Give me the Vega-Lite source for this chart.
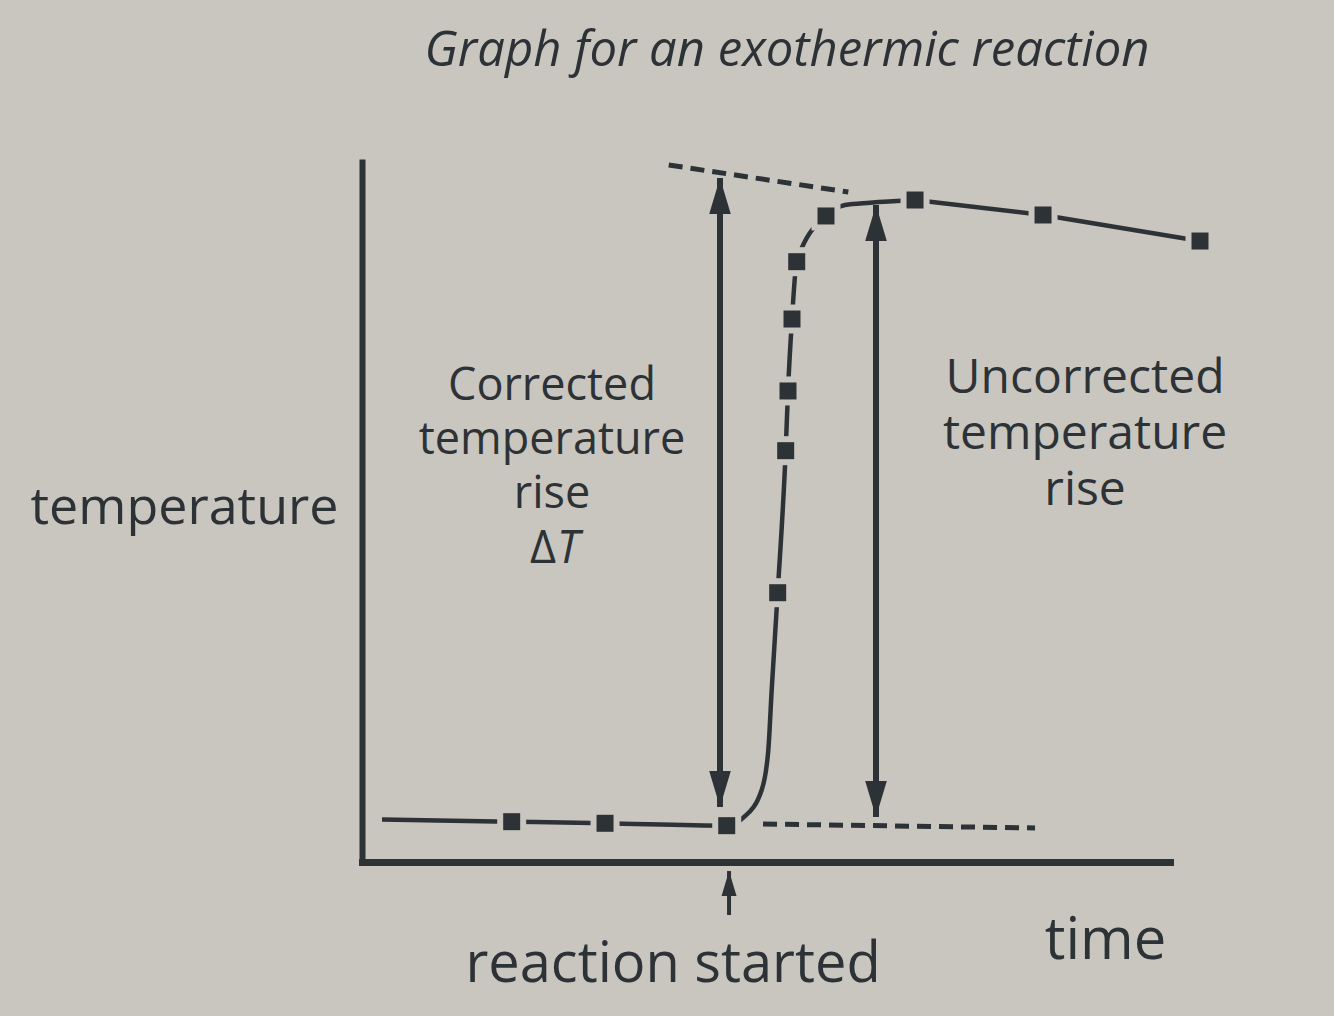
{
  "$schema": "https://vega.github.io/schema/vega-lite/v6.json",
  "width": 808,
  "height": 700,
  "autosize": "none",
  "padding": {"left": 362, "top": 162, "right": 164, "bottom": 154},
  "background": "#c9c6bf",
  "title": {
    "text": "Graph for an exothermic reaction",
    "font": "Open Sans",
    "fontStyle": "italic",
    "fontWeight": "normal",
    "fontSize": 49,
    "color": "#2d3236",
    "anchor": "middle",
    "frame": "group",
    "dx": 21,
    "baseline": "alphabetic",
    "offset": 40
  },
  "config": {
    "view": {"stroke": null},
    "axis": {"grid": false, "ticks": false, "labels": false, "domainColor": "#2d3236", "domainCap": "square",
      "titleFont": "Open Sans", "titleFontWeight": "normal", "titleColor": "#2d3236"}
  },
  "datasets": {
    "curve": [
      {"time": 2.5, "temp": 6.07, "marker": false},
      {"time": 18.71, "temp": 5.76, "marker": true},
      {"time": 30.38, "temp": 5.53, "marker": true},
      {"time": 45.59, "temp": 5.19, "marker": true},
      {"time": 47.63, "temp": 6.29, "marker": false},
      {"time": 49.96, "temp": 10.29, "marker": false},
      {"time": 50.79, "temp": 16.0, "marker": false},
      {"time": 51.21, "temp": 24.57, "marker": false},
      {"time": 51.96, "temp": 38.47, "marker": true},
      {"time": 52.96, "temp": 58.76, "marker": true},
      {"time": 53.25, "temp": 67.29, "marker": true},
      {"time": 53.75, "temp": 77.57, "marker": true},
      {"time": 54.34, "temp": 85.76, "marker": true},
      {"time": 58.0, "temp": 92.29, "marker": true},
      {"time": 60.38, "temp": 93.86, "marker": false},
      {"time": 63.5, "temp": 94.19, "marker": false},
      {"time": 69.13, "temp": 94.57, "marker": true},
      {"time": 85.13, "temp": 92.43, "marker": true},
      {"time": 104.75, "temp": 88.71, "marker": true}
    ],
    "guides": [
      {"guide": "extrapolated maximum", "time": 38.34, "temp": 99.57},
      {"guide": "extrapolated maximum", "time": 60.79, "temp": 95.71},
      {"guide": "starting temperature", "time": 50.13, "temp": 5.43},
      {"guide": "starting temperature", "time": 84.13, "temp": 4.86}
    ],
    "rises": [
      {"rise": "corrected", "time": 44.75, "top": 97.71, "bottom": 7.86},
      {"rise": "uncorrected", "time": 64.25, "top": 93.86, "bottom": 6.43}
    ],
    "start": [
      {"event": "reaction started", "time": 45.88, "top": -1.29, "bottom": -7.57}
    ],
    "blocks": [
      {"label": "Corrected\ntemperature\nrise", "time": 23.75, "temp": 66.0}
    ],
    "blocks2": [
      {"label": "Uncorrected\ntemperature\nrise", "time": 90.38, "temp": 67.0}
    ]
  },
  "layer": [
    {
      "data": {"name": "guides"},
      "mark": {"type": "line", "color": "#2d3236", "strokeWidth": 5, "strokeDash": [14, 8]},
      "encoding": {
        "x": {"field": "time", "type": "quantitative", "scale": {"domain": [0, 101], "nice": false, "zero": false},
          "axis": {"title": "time", "domainWidth": 7, "titleFontSize": 58, "titleX": 743, "titleY": 96, "titleAlign": "center", "titleBaseline": "alphabetic"}},
        "y": {"field": "temp", "type": "quantitative", "scale": {"domain": [0, 100], "nice": false, "zero": false},
          "axis": {"title": "temperature", "domainWidth": 6, "titleFontSize": 52, "titleAngle": 0, "titleAlign": "right", "titleBaseline": "alphabetic", "titleX": -24, "titleY": 361}},
        "detail": {"field": "guide"}
      }
    },
    {
      "data": {"name": "curve"},
      "transform": [{"filter": "datum.time <= 69.13"}],
      "mark": {"type": "line", "color": "#2d3236", "strokeWidth": 4.5, "interpolate": "monotone"},
      "encoding": {
        "x": {"field": "time", "type": "quantitative"},
        "y": {"field": "temp", "type": "quantitative"}
      }
    },
    {
      "data": {"name": "curve"},
      "transform": [{"filter": "datum.time >= 69.13"}],
      "mark": {"type": "line", "color": "#2d3236", "strokeWidth": 4.5},
      "encoding": {
        "x": {"field": "time", "type": "quantitative"},
        "y": {"field": "temp", "type": "quantitative"}
      }
    },
    {
      "data": {"name": "curve"},
      "transform": [{"filter": "datum.marker"}],
      "mark": {"type": "point", "shape": "square", "filled": true, "color": "#c9c6bf", "opacity": 1, "size": 841},
      "encoding": {
        "x": {"field": "time", "type": "quantitative"},
        "y": {"field": "temp", "type": "quantitative"}
      }
    },
    {
      "data": {"name": "curve"},
      "transform": [{"filter": "datum.marker"}],
      "mark": {"type": "point", "shape": "square", "filled": true, "color": "#2d3236", "opacity": 1, "size": 289},
      "encoding": {
        "x": {"field": "time", "type": "quantitative"},
        "y": {"field": "temp", "type": "quantitative"}
      }
    },
    {
      "data": {"name": "rises"},
      "mark": {"type": "rule", "color": "#2d3236", "strokeWidth": 6},
      "encoding": {
        "x": {"field": "time", "type": "quantitative"},
        "y": {"field": "top", "type": "quantitative"},
        "y2": {"field": "bottom"}
      }
    },
    {
      "data": {"name": "rises"},
      "mark": {"type": "point", "shape": "M0,0L0.6,2L-0.6,2Z", "filled": true, "color": "#2d3236", "opacity": 1, "size": 1296},
      "encoding": {
        "x": {"field": "time", "type": "quantitative"},
        "y": {"field": "top", "type": "quantitative"}
      }
    },
    {
      "data": {"name": "rises"},
      "mark": {"type": "point", "shape": "M0,0L0.6,-2L-0.6,-2Z", "filled": true, "color": "#2d3236", "opacity": 1, "size": 1296},
      "encoding": {
        "x": {"field": "time", "type": "quantitative"},
        "y": {"field": "bottom", "type": "quantitative"}
      }
    },
    {
      "data": {"name": "start"},
      "mark": {"type": "rule", "color": "#2d3236", "strokeWidth": 4},
      "encoding": {
        "x": {"field": "time", "type": "quantitative"},
        "y": {"field": "top", "type": "quantitative"},
        "y2": {"field": "bottom"}
      }
    },
    {
      "data": {"name": "start"},
      "mark": {"type": "point", "shape": "M0,0L0.6,2L-0.6,2Z", "filled": true, "color": "#2d3236", "opacity": 1, "size": 625},
      "encoding": {
        "x": {"field": "time", "type": "quantitative"},
        "y": {"field": "top", "type": "quantitative"}
      }
    },
    {
      "data": {"values": [{"label": "reaction started", "time": 38.88, "temp": -17.14}]},
      "mark": {"type": "text", "font": "Open Sans", "fontSize": 56, "color": "#2d3236", "align": "center", "baseline": "alphabetic"},
      "encoding": {
        "x": {"field": "time", "type": "quantitative"},
        "y": {"field": "temp", "type": "quantitative"},
        "text": {"field": "label"}
      }
    },
    {
      "data": {"name": "blocks"},
      "mark": {"type": "text", "font": "Open Sans", "fontSize": 45, "color": "#2d3236", "align": "center", "baseline": "alphabetic", "lineBreak": "\n", "lineHeight": 54},
      "encoding": {
        "x": {"field": "time", "type": "quantitative"},
        "y": {"field": "temp", "type": "quantitative"},
        "text": {"field": "label"}
      }
    },
    {
      "data": {"name": "blocks2"},
      "mark": {"type": "text", "font": "Open Sans", "fontSize": 48, "color": "#2d3236", "align": "center", "baseline": "alphabetic", "lineBreak": "\n", "lineHeight": 56},
      "encoding": {
        "x": {"field": "time", "type": "quantitative"},
        "y": {"field": "temp", "type": "quantitative"},
        "text": {"field": "label"}
      }
    },
    {
      "data": {"values": [{"label": "Δ", "time": 24.25, "temp": 42.71}]},
      "mark": {"type": "text", "font": "Open Sans", "fontSize": 45, "color": "#2d3236", "align": "right", "baseline": "alphabetic"},
      "encoding": {
        "x": {"field": "time", "type": "quantitative"},
        "y": {"field": "temp", "type": "quantitative"},
        "text": {"field": "label"}
      }
    },
    {
      "data": {"values": [{"label": "T", "time": 24.375, "temp": 42.71}]},
      "mark": {"type": "text", "font": "Open Sans", "fontStyle": "italic", "fontSize": 45, "color": "#2d3236", "align": "left", "baseline": "alphabetic"},
      "encoding": {
        "x": {"field": "time", "type": "quantitative"},
        "y": {"field": "temp", "type": "quantitative"},
        "text": {"field": "label"}
      }
    }
  ]
}
